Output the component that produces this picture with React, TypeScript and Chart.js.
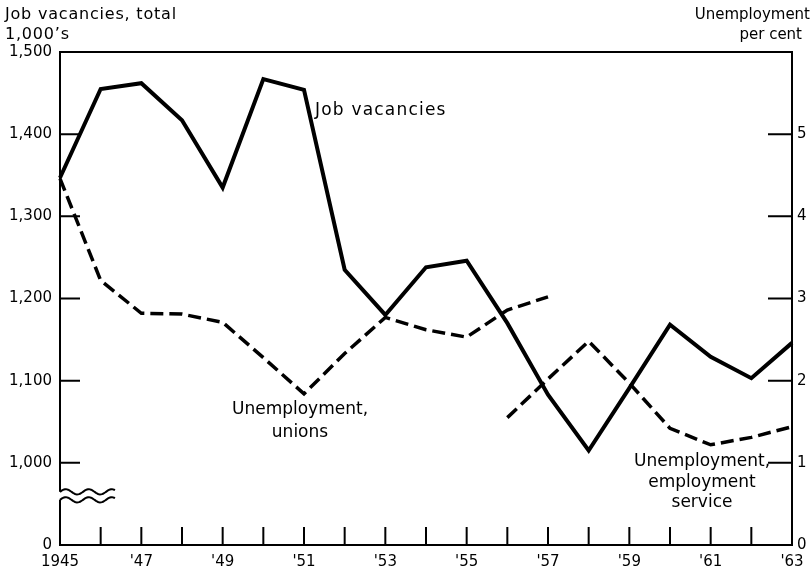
import React, { useEffect, useRef } from 'react';
import { Chart, registerables } from 'chart.js';

Chart.register(...registerables);

// ---- Data ----
const years = [1945, 1946, 1947, 1948, 1949, 1950, 1951, 1952, 1953, 1954, 1955, 1956, 1957, 1958, 1959, 1960, 1961, 1962, 1963];
const jobVacancies = [1347, 1455, 1462, 1417, 1335, 1467, 1454, 1235, 1180, 1238, 1246, 1170, 1083, 1015, 1091, 1168, 1129, 1103, 1146];

const unionYears = [1945, 1946, 1947, 1948, 1949, 1950, 1951, 1952, 1953, 1954, 1955, 1956, 1957];
const unionRate = [4.46, 3.22, 2.82, 2.81, 2.71, 2.28, 1.84, 2.33, 2.77, 2.62, 2.53, 2.86, 3.02];

const serviceYears = [1956, 1957, 1958, 1959, 1960, 1961, 1962, 1963];
const serviceRate = [1.55, 2.02, 2.48, 1.97, 1.42, 1.22, 1.31, 1.44];

const leftTickValues = [900, 1000, 1100, 1200, 1300, 1400, 1500];
const leftTickLabels = ['0', '1,000', '1,100', '1,200', '1,300', '1,400', '1,500'];
const leftInnerTicks = [1000, 1100, 1200, 1300, 1400];
const rightTickValues = [0, 1, 2, 3, 4, 5];
const rightInnerTicks = [1, 2, 3, 4, 5];
const xLabels: Record<number, string> = {
  1945: '1945', 1947: "'47", 1949: "'49", 1951: "'51", 1953: "'53",
  1955: "'55", 1957: "'57", 1959: "'59", 1961: "'61", 1963: "'63",
};

const FONT = '"DejaVu Sans", "Liberation Sans", sans-serif';

const framePlugin = {
  id: 'frame',
  afterDatasetsDraw(chart: any) {
    const { ctx, chartArea: a, scales } = chart;
    const x = scales.x;
    const y = scales.y;
    const y2 = scales.y2;
    ctx.save();
    ctx.strokeStyle = '#000';
    ctx.fillStyle = '#000';
    ctx.lineWidth = 2;
    ctx.lineCap = 'butt';

    const p1000 = y.getPixelForValue(1000);
    const brk1 = p1000 + 29;
    const brk2 = p1000 + 37;

    // frame
    ctx.beginPath();
    ctx.moveTo(a.left, brk1);
    ctx.lineTo(a.left, a.top);
    ctx.lineTo(a.right, a.top);
    ctx.lineTo(a.right, a.bottom);
    ctx.lineTo(a.left, a.bottom);
    ctx.lineTo(a.left, brk2);
    ctx.stroke();

    // break symbol
    for (const base of [brk1, brk2]) {
      ctx.beginPath();
      for (let i = 0; i <= 55; i++) {
        const px = a.left + i;
        const py = base - 2.6 * Math.sin((2 * Math.PI * i) / 23);
        if (i === 0) ctx.moveTo(px, py);
        else ctx.lineTo(px, py);
      }
      ctx.stroke();
    }

    // inward ticks
    ctx.beginPath();
    for (const v of leftInnerTicks) {
      const py = y.getPixelForValue(v);
      ctx.moveTo(a.left, py);
      ctx.lineTo(a.left + 20, py);
    }
    for (const v of rightInnerTicks) {
      const py = y2.getPixelForValue(v);
      ctx.moveTo(a.right, py);
      ctx.lineTo(a.right - 24, py);
    }
    for (const yr of years) {
      if (yr === years[0] || yr === years[years.length - 1]) continue;
      const px = x.getPixelForValue(yr);
      ctx.moveTo(px, a.bottom);
      ctx.lineTo(px, a.bottom - 18);
    }
    ctx.stroke();

    // titles
    ctx.textBaseline = 'middle';
    ctx.textAlign = 'left';
    ctx.font = `16px ${FONT}`;
    (ctx as any).letterSpacing = '0.8px';
    ctx.fillText('Job vacancies, total', 5, 15);
    ctx.fillText('1,000\u2019s', 5, 35);
    (ctx as any).letterSpacing = '0px';
    ctx.font = `15px ${FONT}`;
    ctx.textAlign = 'right';
    ctx.fillText('Unemployment', 810, 15);
    ctx.fillText('per cent', 802, 35);

    // series annotations
    ctx.font = `17px ${FONT}`;
    ctx.textAlign = 'left';
    (ctx as any).letterSpacing = '1.2px';
    ctx.fillText('Job vacancies', 315, 111);
    (ctx as any).letterSpacing = '0px';
    ctx.textAlign = 'center';
    ctx.fillText('Unemployment,', 300, 410);
    ctx.fillText('unions', 300, 433);
    ctx.fillText('Unemployment,', 702, 462);
    ctx.fillText('employment', 702, 483);
    ctx.fillText('service', 702, 503);
    ctx.restore();
  },
};

export default function App() {
  const canvasRef = useRef<HTMLCanvasElement | null>(null);

  useEffect(() => {
    const canvas = canvasRef.current;
    if (!canvas) return;
    const tickFont = { family: FONT, size: 15 };
    const chart = new Chart(canvas, {
      type: 'line',
      data: {
        datasets: [
          {
            label: 'Job vacancies',
            data: years.map((yr, i) => ({ x: yr, y: jobVacancies[i] })),
            yAxisID: 'y',
            borderColor: '#000',
            borderWidth: 4,
            pointRadius: 0,
            tension: 0,
            borderJoinStyle: 'miter',
            clip: false,
          } as any,
          {
            label: 'Unemployment, unions',
            data: unionYears.map((yr, i) => ({ x: yr, y: unionRate[i] })),
            yAxisID: 'y2',
            borderColor: '#000',
            borderWidth: 3.5,
            borderDash: [13, 6],
            pointRadius: 0,
            tension: 0,
            clip: false,
          } as any,
          {
            label: 'Unemployment, employment service',
            data: serviceYears.map((yr, i) => ({ x: yr, y: serviceRate[i] })),
            yAxisID: 'y2',
            borderColor: '#000',
            borderWidth: 3.5,
            borderDash: [13, 6],
            pointRadius: 0,
            tension: 0,
            clip: false,
          } as any,
        ],
      },
      options: {
        animation: false,
        responsive: false,
        devicePixelRatio: 1,
        layout: { padding: { top: 52, left: 0, right: 0, bottom: 0 } },
        plugins: { legend: { display: false }, tooltip: { enabled: false } },
        scales: {
          x: {
            type: 'linear',
            min: 1945,
            max: 1963,
            grid: { display: false, drawTicks: false },
            border: { display: false },
            afterBuildTicks: (s: any) => {
              s.ticks = years.map((v) => ({ value: v }));
            },
            afterFit: (s: any) => {
              s.height = 28;
            },
            ticks: {
              autoSkip: false,
              maxRotation: 0,
              minRotation: 0,
              padding: 8,
              color: '#000',
              font: tickFont,
              callback: (v: any) => xLabels[v as number] ?? '',
            },
          },
          y: {
            type: 'linear',
            position: 'left',
            min: 900,
            max: 1500,
            grid: { display: false, drawTicks: false },
            border: { display: false },
            afterBuildTicks: (s: any) => {
              s.ticks = leftTickValues.map((v) => ({ value: v }));
            },
            afterFit: (s: any) => {
              s.width = 60;
            },
            ticks: {
              padding: 8,
              color: '#000',
              font: tickFont,
              callback: (v: any) => {
                const idx = leftTickValues.indexOf(v as number);
                return idx >= 0 ? leftTickLabels[idx] : '';
              },
            },
          },
          y2: {
            type: 'linear',
            position: 'right',
            min: 0,
            max: 6,
            grid: { display: false, drawTicks: false },
            border: { display: false },
            afterBuildTicks: (s: any) => {
              s.ticks = rightTickValues.map((v) => ({ value: v }));
            },
            afterFit: (s: any) => {
              s.width = 20;
            },
            ticks: {
              padding: 5,
              color: '#000',
              font: tickFont,
              callback: (v: any) => String(v),
            },
          },
        },
      },
      plugins: [framePlugin],
    } as any);
    return () => chart.destroy();
  }, []);

  return (
    <div style={{ position: 'fixed', left: 0, top: 0, width: 812, height: 573, background: '#fff' }}>
      <canvas ref={canvasRef} width={812} height={573} style={{ width: 812, height: 573, display: 'block' }} />
    </div>
  );
}
